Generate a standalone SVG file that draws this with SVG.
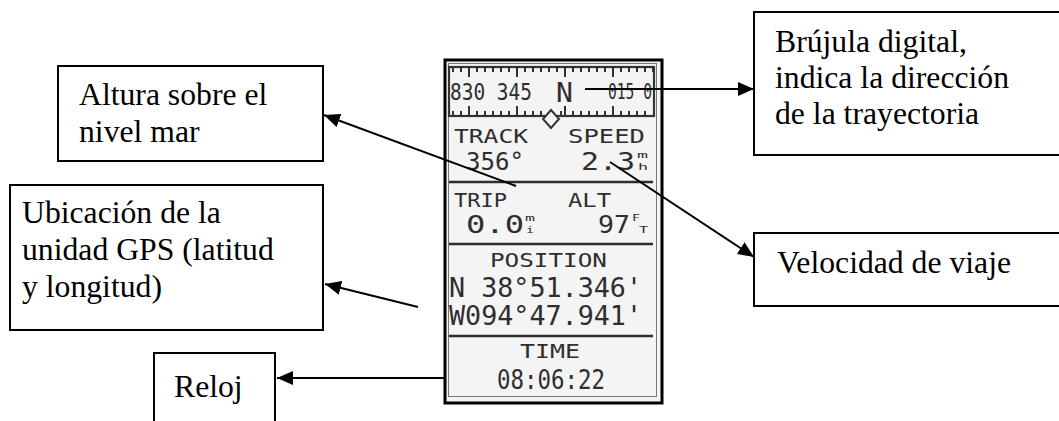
<svg xmlns="http://www.w3.org/2000/svg" width="1059" height="421" viewBox="0 0 1059 421">
<style>
.box{fill:#fff;stroke:#000;stroke-width:2}
.lbl{font-family:"Liberation Serif","Times New Roman",serif;font-size:31.7px;fill:#000}
.con{stroke:#000;stroke-width:2;fill:none}
.lcd{font-family:"DejaVu Sans Mono","Liberation Mono",monospace;fill:#2e2e2e}
.sep{stroke:#2e2e2e;stroke-width:2.5}
.unit{font-family:"DejaVu Sans Mono","Liberation Mono",monospace;fill:#2e2e2e;font-size:9px}
</style>
<defs>
<marker id="ah" markerUnits="userSpaceOnUse" markerWidth="17" markerHeight="14" refX="16" refY="7" orient="auto">
<path d="M0,0 L16,7 L0,14 z" fill="#000"/>
</marker>
</defs>
<rect width="1059" height="421" fill="#fff"/>

<g id="gps-screen">
<rect x="445" y="60" width="217" height="343" fill="#f4f4f4" stroke="#000" stroke-width="3"/>
<rect x="448.5" y="63.5" width="208" height="333" fill="none" stroke="#777" stroke-width="1"/>
<rect x="449" y="67" width="205" height="49" fill="none" stroke="#333" stroke-width="2.2"/>
<path stroke="#333" stroke-width="2" fill="none" d="M453,67v5M461,67v5M469,67v10M477,67v5M485,67v5M493,67v5M501,67v5M509,67v5M517,67v10M525,67v5M533,67v5M541,67v5M549,67v5M557,67v5M565,67v10M573,67v5M581,67v5M589,67v5M597,67v5M605,67v5M613,67v10M621,67v5M629,67v5M637,67v5M645,67v5M653,67v5"/>
<path stroke="#333" stroke-width="2" fill="none" d="M453,116v-5M461,116v-5M469,116v-10M477,116v-5M485,116v-5M493,116v-5M501,116v-5M509,116v-5M517,116v-10M525,116v-5M533,116v-5M541,116v-5M561,116v-5M565,116v-10M573,116v-5M581,116v-5M589,116v-5M597,116v-5M605,116v-5M613,116v-10M621,116v-5M629,116v-5M637,116v-5M645,116v-5"/>
<path d="M551,110 L559,119 L551,128 L543,119 z" fill="#f4f4f4" stroke="#333" stroke-width="2"/>
<text class="lcd" x="450" y="100" font-size="23" textLength="82" lengthAdjust="spacingAndGlyphs">830 345</text>
<text class="lcd" x="556" y="102" font-size="27" textLength="17" lengthAdjust="spacingAndGlyphs">N</text>
<text class="lcd" x="608" y="99" font-size="21" textLength="44" lengthAdjust="spacingAndGlyphs">015 0</text>

<text class="lcd" x="454" y="143" font-size="19" textLength="74" lengthAdjust="spacingAndGlyphs">TRACK</text>
<text class="lcd" x="568" y="143" font-size="19" textLength="77" lengthAdjust="spacingAndGlyphs">SPEED</text>
<text class="lcd" x="466" y="170" font-size="25" textLength="58" lengthAdjust="spacingAndGlyphs">356°</text>
<text class="lcd" x="581" y="170" font-size="25" textLength="54" lengthAdjust="spacingAndGlyphs">2.3</text>
<text class="unit" x="637" y="158" textLength="11" lengthAdjust="spacingAndGlyphs">m</text>
<text class="unit" x="638" y="170" textLength="10" lengthAdjust="spacingAndGlyphs">h</text>
<line class="sep" x1="449" y1="182" x2="653" y2="182"/>

<text class="lcd" x="454" y="207" font-size="19" textLength="53" lengthAdjust="spacingAndGlyphs">TRIP</text>
<text class="lcd" x="568" y="207" font-size="19" textLength="43" lengthAdjust="spacingAndGlyphs">ALT</text>
<text class="lcd" x="466" y="233" font-size="25" textLength="58" lengthAdjust="spacingAndGlyphs">0.0</text>
<text class="unit" x="525" y="221" textLength="10" lengthAdjust="spacingAndGlyphs">m</text>
<text class="unit" x="526" y="233" textLength="8" lengthAdjust="spacingAndGlyphs">i</text>
<text class="lcd" x="598" y="233" font-size="25" textLength="32" lengthAdjust="spacingAndGlyphs">97</text>
<text class="unit" x="632" y="221" textLength="8" lengthAdjust="spacingAndGlyphs">F</text>
<text class="unit" x="639" y="233" textLength="9" lengthAdjust="spacingAndGlyphs">T</text>
<line class="sep" x1="449" y1="244" x2="653" y2="244"/>

<text class="lcd" x="490" y="267" font-size="19" textLength="117" lengthAdjust="spacingAndGlyphs">POSITION</text>
<text class="lcd" x="449" y="297" font-size="26" textLength="193" lengthAdjust="spacingAndGlyphs">N 38°51.346'</text>
<text class="lcd" x="449" y="325" font-size="26" textLength="193" lengthAdjust="spacingAndGlyphs">W094°47.941'</text>
<line class="sep" x1="449" y1="336" x2="653" y2="336"/>

<text class="lcd" x="520" y="358" font-size="19" textLength="60" lengthAdjust="spacingAndGlyphs">TIME</text>
<text class="lcd" x="497" y="389" font-size="27" textLength="108" lengthAdjust="spacingAndGlyphs">08:06:22</text>
</g>

<g id="node-brujula">
<rect class="box" x="754" y="12" width="320" height="143"/>
<text class="lbl" x="775" y="52">Brújula digital,</text>
<text class="lbl" x="775" y="88">indica la dirección</text>
<text class="lbl" x="775" y="124">de la trayectoria</text>
</g>

<g id="node-altura">
<rect class="box" x="58" y="66" width="265" height="95"/>
<text class="lbl" x="79" y="105">Altura sobre el</text>
<text class="lbl" x="79" y="142">nivel mar</text>
</g>

<g id="node-ubicacion">
<rect class="box" x="10" y="185" width="313" height="145"/>
<text class="lbl" x="22" y="223">Ubicación de la</text>
<text class="lbl" x="22" y="260">unidad GPS (latitud</text>
<text class="lbl" x="22" y="297">y longitud)</text>
</g>

<g id="node-velocidad">
<rect class="box" x="754" y="233" width="320" height="73"/>
<text class="lbl" x="777" y="273">Velocidad de viaje</text>
</g>

<g id="node-reloj">
<rect class="box" x="154" y="353" width="121" height="90"/>
<text class="lbl" x="174" y="397">Reloj</text>
</g>

<g id="connectors">
<line class="con" x1="585" y1="89" x2="754" y2="89" marker-end="url(#ah)"/>
<line class="con" x1="516" y1="186" x2="324" y2="115" marker-end="url(#ah)"/>
<line class="con" x1="610" y1="162" x2="754" y2="257" marker-end="url(#ah)"/>
<line class="con" x1="418" y1="307" x2="325" y2="284" marker-end="url(#ah)"/>
<line class="con" x1="444" y1="378" x2="277" y2="378" marker-end="url(#ah)"/>
</g>
</svg>
